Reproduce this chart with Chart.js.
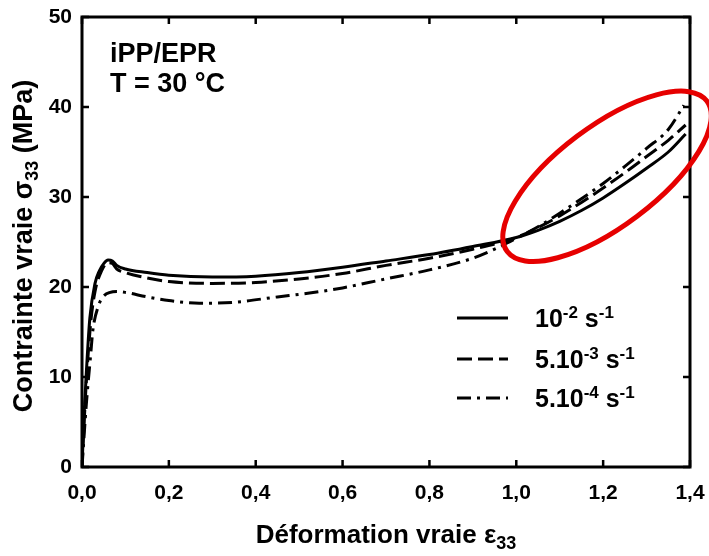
<!DOCTYPE html>
<html>
<head>
<meta charset="utf-8">
<script src="https://cdn.jsdelivr.net/npm/chart.js@4.4.1/dist/chart.umd.min.js"></script>
<style>
  html, body { margin: 0; padding: 0; background: #fff; }
  #wrap { width: 709px; height: 556px; }
</style>
</head>
<body>
<div id="wrap"><canvas id="stressChart"></canvas></div>
<script>
// strain rate 10^-2 s^-1 (solid)
var strainA = [0, 0.005, 0.01, 0.018, 0.03, 0.04, 0.05, 0.06, 0.07, 0.08, 0.1, 0.15, 0.2, 0.3, 0.4, 0.5, 0.6, 0.7, 0.8, 0.9, 1.0, 1.05, 1.1, 1.15, 1.2, 1.25, 1.3, 1.35, 1.39];
var stressA = [0, 6, 10.5, 16.5, 20.4, 21.8, 22.6, 23.0, 22.9, 22.4, 22.0, 21.6, 21.3, 21.1, 21.2, 21.6, 22.2, 22.9, 23.6, 24.5, 25.5, 26.3, 27.3, 28.5, 29.9, 31.5, 33.2, 35.0, 37.0];
// 5.10^-3 s^-1 (dashed)
var strainB = [0, 0.005, 0.01, 0.02, 0.03, 0.045, 0.06, 0.07, 0.08, 0.1, 0.15, 0.2, 0.3, 0.4, 0.5, 0.6, 0.7, 0.8, 0.9, 1.0, 1.05, 1.1, 1.15, 1.2, 1.25, 1.3, 1.35, 1.39];
var stressB = [0, 5, 9.5, 16, 19.5, 21.8, 22.7, 22.6, 22.0, 21.6, 21.0, 20.6, 20.4, 20.5, 20.9, 21.5, 22.4, 23.2, 24.2, 25.5, 26.6, 27.9, 29.4, 31.0, 32.7, 34.5, 36.3, 38.0];
// 5.10^-4 s^-1 (dash-dot)
var strainC = [0, 0.01, 0.02, 0.025, 0.037, 0.05, 0.08, 0.1, 0.15, 0.2, 0.27, 0.35, 0.45, 0.52, 0.6, 0.66, 0.7, 0.8, 0.9, 0.95, 1.0, 1.05, 1.1, 1.15, 1.2, 1.25, 1.3, 1.35, 1.386];
var stressC = [0, 7, 12.5, 15.2, 17.8, 19.0, 19.5, 19.4, 18.9, 18.5, 18.2, 18.3, 18.9, 19.3, 19.9, 20.5, 20.9, 21.9, 23.2, 24.2, 25.4, 26.7, 28.2, 29.8, 31.5, 33.4, 35.4, 37.5, 40.2];

var seriesLabels = ["10^{-2} s^{-1}", "5.10^{-3} s^{-1}", "5.10^{-4} s^{-1}"];
var seriesDash = [[], [15, 6], [14, 6, 3, 6]];
var xTicks = [0, 0.2, 0.4, 0.6, 0.8, 1.0, 1.2, 1.4];
var yTicks = [0, 10, 20, 30, 40, 50];

var FONT = '"Liberation Sans", Arial, Helvetica, sans-serif';

function pts(xs, ys) {
  return xs.map(function (x, i) { return { x: x, y: ys[i] }; });
}

// split "10^{-2} s^{-1}" into pieces with sup / sub flags
function parseRich(str) {
  var out = [], re = /([\^_])\{([^}]*)\}/g, last = 0, m;
  while ((m = re.exec(str))) {
    if (m.index > last) out.push({ t: str.slice(last, m.index), k: "" });
    out.push({ t: m[2], k: m[1] === "^" ? "sup" : "sub" });
    last = re.lastIndex;
  }
  if (last < str.length) out.push({ t: str.slice(last), k: "" });
  return out;
}

function drawRich(ctx, str, x, y, size, align) {
  var parts = parseRich(str);
  var small = Math.round(size * 0.68);
  var total = 0;
  parts.forEach(function (p) {
    ctx.font = "bold " + (p.k ? small : size) + "px " + FONT;
    p.w = ctx.measureText(p.t).width;
    total += p.w;
  });
  var cx = align === "center" ? x - total / 2 : x;
  ctx.textAlign = "left";
  ctx.textBaseline = "alphabetic";
  parts.forEach(function (p) {
    ctx.font = "bold " + (p.k ? small : size) + "px " + FONT;
    var dy = p.k === "sup" ? -size * 0.38 : p.k === "sub" ? size * 0.22 : 0;
    ctx.fillText(p.t, cx, y + dy);
    cx += p.w;
  });
}

var decorPlugin = {
  id: "decor",
  afterDraw: function (chart) {
    var ctx = chart.ctx, a = chart.chartArea;
    var xs = chart.scales.x, ys = chart.scales.y;
    ctx.save();
    ctx.fillStyle = "#000";
    ctx.strokeStyle = "#000";

    // inward ticks on all four sides
    ctx.lineWidth = 2.5;
    ctx.beginPath();
    xTicks.forEach(function (v) {
      var px = xs.getPixelForValue(v);
      ctx.moveTo(px, a.bottom); ctx.lineTo(px, a.bottom - 7);
      ctx.moveTo(px, a.top); ctx.lineTo(px, a.top + 7);
    });
    yTicks.forEach(function (v) {
      var py = ys.getPixelForValue(v);
      ctx.moveTo(a.left, py); ctx.lineTo(a.left + 7, py);
      ctx.moveTo(a.right, py); ctx.lineTo(a.right - 7, py);
    });
    ctx.stroke();

    // frame
    ctx.lineWidth = 3;
    ctx.strokeRect(a.left, a.top, a.right - a.left, a.bottom - a.top);

    // axis titles
    drawRich(ctx, "Déformation vraie ε_{33}", (a.left + a.right) / 2, 543, 26, "center");
    ctx.save();
    ctx.translate(32, (a.top + a.bottom) / 2 + 4);
    ctx.rotate(-Math.PI / 2);
    drawRich(ctx, "Contrainte vraie σ_{33} (MPa)", 0, 0, 27, "center");
    ctx.restore();

    // annotation
    drawRich(ctx, "iPP/EPR", a.left + 28, 62, 27, "left");
    drawRich(ctx, "T = 30 °C", a.left + 28, 92, 27, "left");

    // legend
    var rowY = [318, 359, 398];
    chart.data.datasets.forEach(function (ds, i) {
      ctx.lineWidth = 3;
      ctx.setLineDash(ds.borderDash || []);
      ctx.beginPath();
      ctx.moveTo(457, rowY[i]);
      ctx.lineTo(508, rowY[i]);
      ctx.stroke();
      ctx.setLineDash([]);
      drawRich(ctx, ds.label, 535, rowY[i] + 9, 25, "left");
    });

    // red ellipse highlighting the hardening zone
    ctx.strokeStyle = "#e60000";
    ctx.lineWidth = 5;
    ctx.beginPath();
    ctx.ellipse(xs.getPixelForValue(1.209), ys.getPixelForValue(32.3), 125, 50, -37 * Math.PI / 180, 0, 2 * Math.PI);
    ctx.stroke();
    ctx.restore();
  }
};

var datasets = [
  { label: seriesLabels[0], data: pts(strainA, stressA), borderDash: seriesDash[0] },
  { label: seriesLabels[1], data: pts(strainB, stressB), borderDash: seriesDash[1] },
  { label: seriesLabels[2], data: pts(strainC, stressC), borderDash: seriesDash[2] }
].map(function (d) {
  d.borderColor = "#000";
  d.borderWidth = 3;
  d.pointRadius = 0;
  d.fill = false;
  d.cubicInterpolationMode = "monotone";
  return d;
});

new Chart(document.getElementById("stressChart").getContext("2d"), {
  type: "line",
  data: { datasets: datasets },
  options: {
    responsive: true,
    maintainAspectRatio: false,
    animation: false,
    layout: { padding: { top: 17, right: 19, left: 0, bottom: 0 } },
    plugins: { legend: { display: false }, tooltip: { enabled: false } },
    scales: {
      x: {
        type: "linear",
        min: 0,
        max: 1.4,
        grid: { display: false, drawTicks: false },
        border: { display: false },
        afterFit: function (s) { s.height = 89; s.paddingLeft = 0; s.paddingRight = 0; },
        afterBuildTicks: function (s) { s.ticks = xTicks.map(function (v) { return { value: v }; }); },
        ticks: {
          padding: 14,
          color: "#000",
          font: { family: FONT, size: 21, weight: "bold" },
          callback: function (v) { return v.toFixed(1).replace(".", ","); }
        }
      },
      y: {
        min: 0,
        max: 50,
        grid: { display: false, drawTicks: false },
        border: { display: false },
        afterFit: function (s) { s.width = 82; s.paddingTop = 0; s.paddingBottom = 0; },
        afterBuildTicks: function (s) { s.ticks = yTicks.map(function (v) { return { value: v }; }); },
        ticks: {
          padding: 10,
          color: "#000",
          font: { family: FONT, size: 21, weight: "bold" }
        }
      }
    }
  },
  plugins: [decorPlugin]
});
</script>
</body>
</html>
